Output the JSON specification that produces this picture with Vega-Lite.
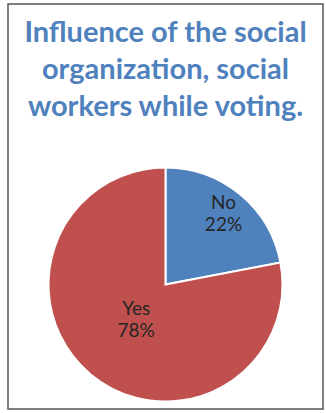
{
  "$schema": "https://vega.github.io/schema/vega-lite/v6.json",
  "width": 326,
  "height": 413,
  "autosize": {"type": "fit", "contains": "padding"},
  "padding": {"left": 7, "top": 3, "right": 2, "bottom": 3},
  "background": "white",
  "config": {
    "view": {"stroke": null},
    "font": "Lato"
  },
  "title": {
    "text": ["Influence of the social", "organization, social", "workers while voting."],
    "font": "Lato",
    "fontSize": 29,
    "fontWeight": "bold",
    "color": "#4F81BD",
    "lineHeight": 37,
    "anchor": "middle",
    "baseline": "top",
    "offset": -119
  },
  "layer": [
    {
      "data": {"values": [{"frame": "border"}]},
      "mark": {"type": "rect", "fill": null, "stroke": "#555555", "strokeWidth": 1.5},
      "encoding": {}
    },
    {
      "data": {
        "values": [
          {"category": "No", "value": 22},
          {"category": "Yes", "value": 78}
        ]
      },
      "transform": [
        {"calculate": "datum.category + '\\n' + datum.value + '%'", "as": "label"}
      ],
      "encoding": {
        "theta": {"field": "value", "type": "quantitative", "stack": true},
        "order": {"field": "category", "type": "nominal"}
      },
      "layer": [
        {
          "mark": {"type": "arc", "radius": 117, "stroke": "white", "strokeWidth": 2, "yOffset": 78},
          "encoding": {
            "color": {
              "field": "category",
              "type": "nominal",
              "scale": {"domain": ["No", "Yes"], "range": ["#4F81BD", "#C0504D"]},
              "legend": null
            }
          }
        },
        {
          "mark": {"type": "text", "yOffset": 67, "fontSize": 19, "lineBreak": "\n", "lineHeight": 22, "font": "Lato", "color": "#262626",
            "radius": {"expr": "datum.category == 'No' ? 91 : 46"}},
          "encoding": {
            "text": {"field": "label"},
            "detail": {"field": "category", "type": "nominal"}
          }
        }
      ]
    }
  ]
}
